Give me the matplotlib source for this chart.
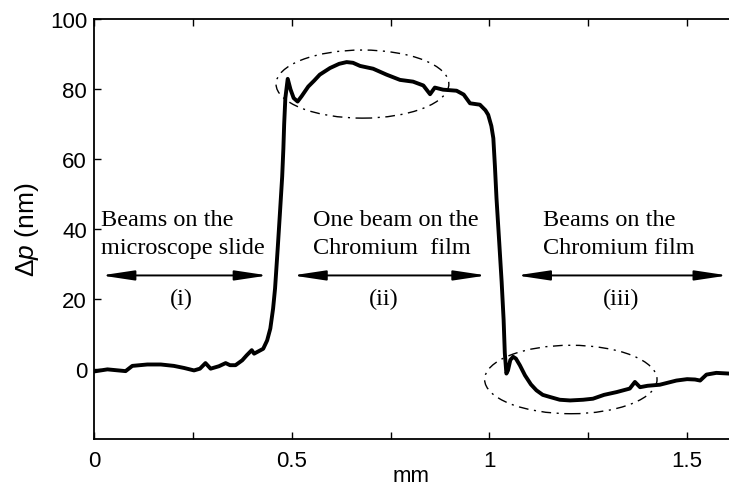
import matplotlib.pyplot as plt
from matplotlib.patches import Ellipse

plt.rcParams['mathtext.fontset'] = 'custom'
plt.rcParams['mathtext.rm'] = 'Liberation Sans'
plt.rcParams['mathtext.it'] = 'Liberation Sans:italic'

# surface profile across the slide / chromium film edge
pos_mm = [0.0, 0.034, 0.080, 0.097, 0.135, 0.169, 0.202, 0.228, 0.253, 0.268,
          0.282, 0.295, 0.316, 0.333, 0.344, 0.358, 0.375, 0.386, 0.399, 0.405,
          0.428, 0.438, 0.446, 0.453, 0.458, 0.465, 0.470, 0.476, 0.479, 0.481,
          0.484, 0.490, 0.497, 0.505, 0.515, 0.525, 0.542, 0.557, 0.571, 0.597,
          0.620, 0.639, 0.655, 0.673, 0.706, 0.740, 0.774, 0.807, 0.833, 0.850,
          0.862, 0.883, 0.917, 0.935, 0.951, 0.976, 0.990, 0.997, 1.005, 1.010,
          1.014, 1.018, 1.025, 1.031, 1.036, 1.039, 1.043, 1.047, 1.053, 1.060,
          1.067, 1.077, 1.090, 1.105, 1.119, 1.135, 1.153, 1.178, 1.204, 1.237,
          1.262, 1.290, 1.322, 1.355, 1.368, 1.381, 1.400, 1.431, 1.473, 1.500,
          1.520, 1.533, 1.549, 1.574, 1.606]
dp_nm = [-0.8, -0.2, -0.7, 0.8, 1.2, 1.2, 0.8, 0.2, -0.5, 0.0,
         1.6, 0.0, 0.7, 1.6, 1.0, 1.0, 2.4, 3.8, 5.3, 4.3,
         5.7, 8.1, 11.5, 17.2, 23.0, 35.0, 44.0, 55.0, 63.0, 70.0,
         77.5, 83.0, 80.0, 77.5, 76.5, 78.0, 80.8, 82.5, 84.2, 86.1,
         87.3, 87.8, 87.6, 86.7, 85.9, 84.2, 82.7, 82.2, 81.1, 78.6,
         80.5, 79.9, 79.6, 78.5, 76.0, 75.6, 74.0, 72.7, 69.5, 66.0,
         58.0, 48.8, 36.0, 24.9, 14.0, 4.5, -1.4, -0.5, 2.5, 3.4,
         2.9, 1.0, -1.9, -4.5, -6.2, -7.5, -8.1, -8.9, -9.1, -8.9,
         -8.6, -7.5, -6.7, -5.7, -3.8, -5.3, -4.9, -4.6, -3.4, -3.0,
         -3.1, -3.4, -1.7, -1.2, -1.4]

region_text = ['Beams on the\nmicroscope slide',
               'One beam on the\nChromium  film',
               'Beams on the\nChromium film']
region_text_x = [0.018, 0.553, 1.135]
region_tag = ['(i)', '(ii)', '(iii)']
region_tag_x = [0.22, 0.733, 1.334]
region_span = [(0.018, 0.44), (0.502, 0.993), (1.069, 1.603)]

# ellipses marking the overshoot regions: centre x, centre y, width, height
ellipses = [(0.679, 81.5, 0.437, 19.5), (1.206, -3.1, 0.436, 19.6)]

fig = plt.figure(figsize=(7.29, 4.89), dpi=100)
ax = fig.add_axes([0.1289, 0.1012, 0.8711, 0.8569])

ax.plot(pos_mm, dp_nm, color='black', lw=2.8, solid_joinstyle='round')

for cx, cy, w, h in ellipses:
    ax.add_patch(Ellipse((cx, cy), w, h, fill=False, color='black',
                         lw=1.0, ls=(0, (7, 4, 1.5, 4))))

serif = 'Liberation Serif'
for txt, tx in zip(region_text, region_text_x):
    ax.text(tx, 38.7, txt, family=serif, fontsize=17.5, ha='left',
            va='center', linespacing=1.4)
for tag, tx in zip(region_tag, region_tag_x):
    ax.text(tx, 20.1, tag, family=serif, fontsize=17.5, ha='center',
            va='center')
for x0, x1 in region_span:
    ax.annotate('', xy=(x1, 26.7), xytext=(x0, 26.7),
                arrowprops=dict(arrowstyle='<|-|>,head_length=2.0,head_width=0.3',
                                mutation_scale=10, color='black', lw=1.4,
                                shrinkA=0, shrinkB=0))

ax.set_xlim(0, 1.606)
ax.set_ylim(-20, 100)
ax.set_xticks([0, 0.25, 0.5, 0.75, 1.0, 1.25, 1.5])
ax.set_xticklabels(['0', '', '0.5', '', '1', '', '1.5'])
ax.set_yticks([0, 20, 40, 60, 80, 100])
ax.spines['right'].set_visible(False)
for s in ['left', 'top', 'bottom']:
    ax.spines[s].set_linewidth(1.3)

ax.tick_params(direction='in', top=True, right=False, length=5, width=1,
               labelsize=16)
ax.tick_params(axis='x', pad=8)
ax.tick_params(axis='y', pad=5)
for lab in ax.get_xticklabels() + ax.get_yticklabels():
    lab.set_family('Liberation Sans')

ax.set_xlabel('mm', family='Liberation Sans', fontsize=16, labelpad=-4)
ax.set_ylabel(r'$\Delta p$ (nm)', family='Liberation Sans', fontsize=19,
              labelpad=6)

fig.savefig('out.png', dpi=100)
